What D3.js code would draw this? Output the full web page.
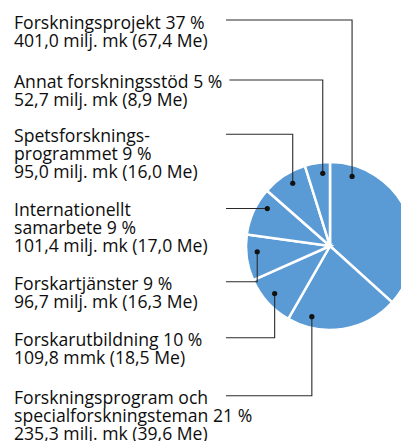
<!DOCTYPE html>
<html>
<head>
<meta charset="utf-8">
<script src="https://cdn.jsdelivr.net/npm/d3@7"></script>
<style>
  html, body { margin: 0; padding: 0; background: #fff; overflow: hidden; }
  svg { display: block; }
  .label { font-family: "Open Sans", sans-serif; font-size: 17.6px; fill: #0d0d0d; }
  .leader { fill: none; stroke: #2a2a2a; stroke-width: 1.1; }
  .slice { fill: #5b9bd5; stroke: #fff; stroke-width: 2.5; }
</style>
</head>
<body>
<script>
(function(){

    // Data, clockwise from 12 o'clock
    var categories = [
        "Forskningsprojekt",
        "Forskningsprogram och specialforskningsteman",
        "Forskarutbildning",
        "Forskartjänster",
        "Internationellt samarbete",
        "Spetsforskningsprogrammet",
        "Annat forskningsstöd"
    ];
    var valuesMmk = [401.0, 235.3, 109.8, 96.7, 101.4, 95.0, 52.7];
    var valuesMe = [67.4, 39.6, 18.5, 16.3, 17.0, 16.0, 8.9];
    var percents = [37, 21, 10, 9, 9, 9, 5];
    var labelLines = [
        ["Forskningsprojekt 37 %", "401,0 milj. mk (67,4 Me)"],
        ["Forskningsprogram och", "specialforskningsteman 21 %", "235,3 milj. mk (39,6 Me)"],
        ["Forskarutbildning 10 %", "109,8 mmk (18,5 Me)"],
        ["Forskartjänster 9 %", "96,7 milj. mk (16,3 Me)"],
        ["Internationellt", "samarbete 9 %", "101,4 milj. mk (17,0 Me)"],
        ["Spetsforsknings-", "programmet 9 %", "95,0 milj. mk (16,0 Me)"],
        ["Annat forskningsstöd 5 %", "52,7 milj. mk (8,9 Me)"]
    ];

    // Layout: baseline of each label's first line, and where its leader touches the pie
    var labelTop = [28.5, 404, 346, 290, 216, 142, 88];
    var leaderY = [20, 395.7, 337.7, 281.7, 208.5, 134.3, 80];
    var anchorAngle = [17.6, 194.4, 229.3, 265.5, 300.8, 329.3, 354.3];

    var width = 401,
        height = 441,
        cx = 330,
        cy = 246,
        radius = 84,
        anchorR = 73,
        textX = 14,
        lineH = 18,
        leaderStart = 226;

    var svg = d3.select("body")
        .append("svg")
        .attr("width", width)
        .attr("height", height);

    var pie = d3.pie().sort(null).value(function(d){ return d; });
    var arc = d3.arc().innerRadius(0).outerRadius(radius);

    var g = svg.append("g").attr("transform", "translate(" + cx + "," + cy + ")");

    g.selectAll(".slice")
        .data(pie(valuesMmk))
        .enter()
        .append("path")
        .attr("class", "slice")
        .attr("d", arc);

    var rad = Math.PI / 180;

    categories.forEach(function(name, i){
        var t = svg.append("text")
            .attr("class", "label")
            .attr("x", textX)
            .attr("y", labelTop[i]);

        labelLines[i].forEach(function(line, j){
            t.append("tspan")
                .attr("x", textX)
                .attr("y", labelTop[i] + j * lineH)
                .text(line);
        });

        var firstEnd = textX + t.select("tspan").node().getComputedTextLength();
        var x0 = Math.max(leaderStart, firstEnd + 7);

        var ax = cx + anchorR * Math.sin(anchorAngle[i] * rad),
            ay = cy - anchorR * Math.cos(anchorAngle[i] * rad);

        svg.append("path")
            .attr("class", "leader")
            .attr("d", "M" + x0 + "," + leaderY[i] + "H" + ax + "V" + ay);

        svg.append("circle")
            .attr("cx", ax)
            .attr("cy", ay)
            .attr("r", 2.6)
            .attr("fill", "#111");
    });

})();
</script>
</body>
</html>
